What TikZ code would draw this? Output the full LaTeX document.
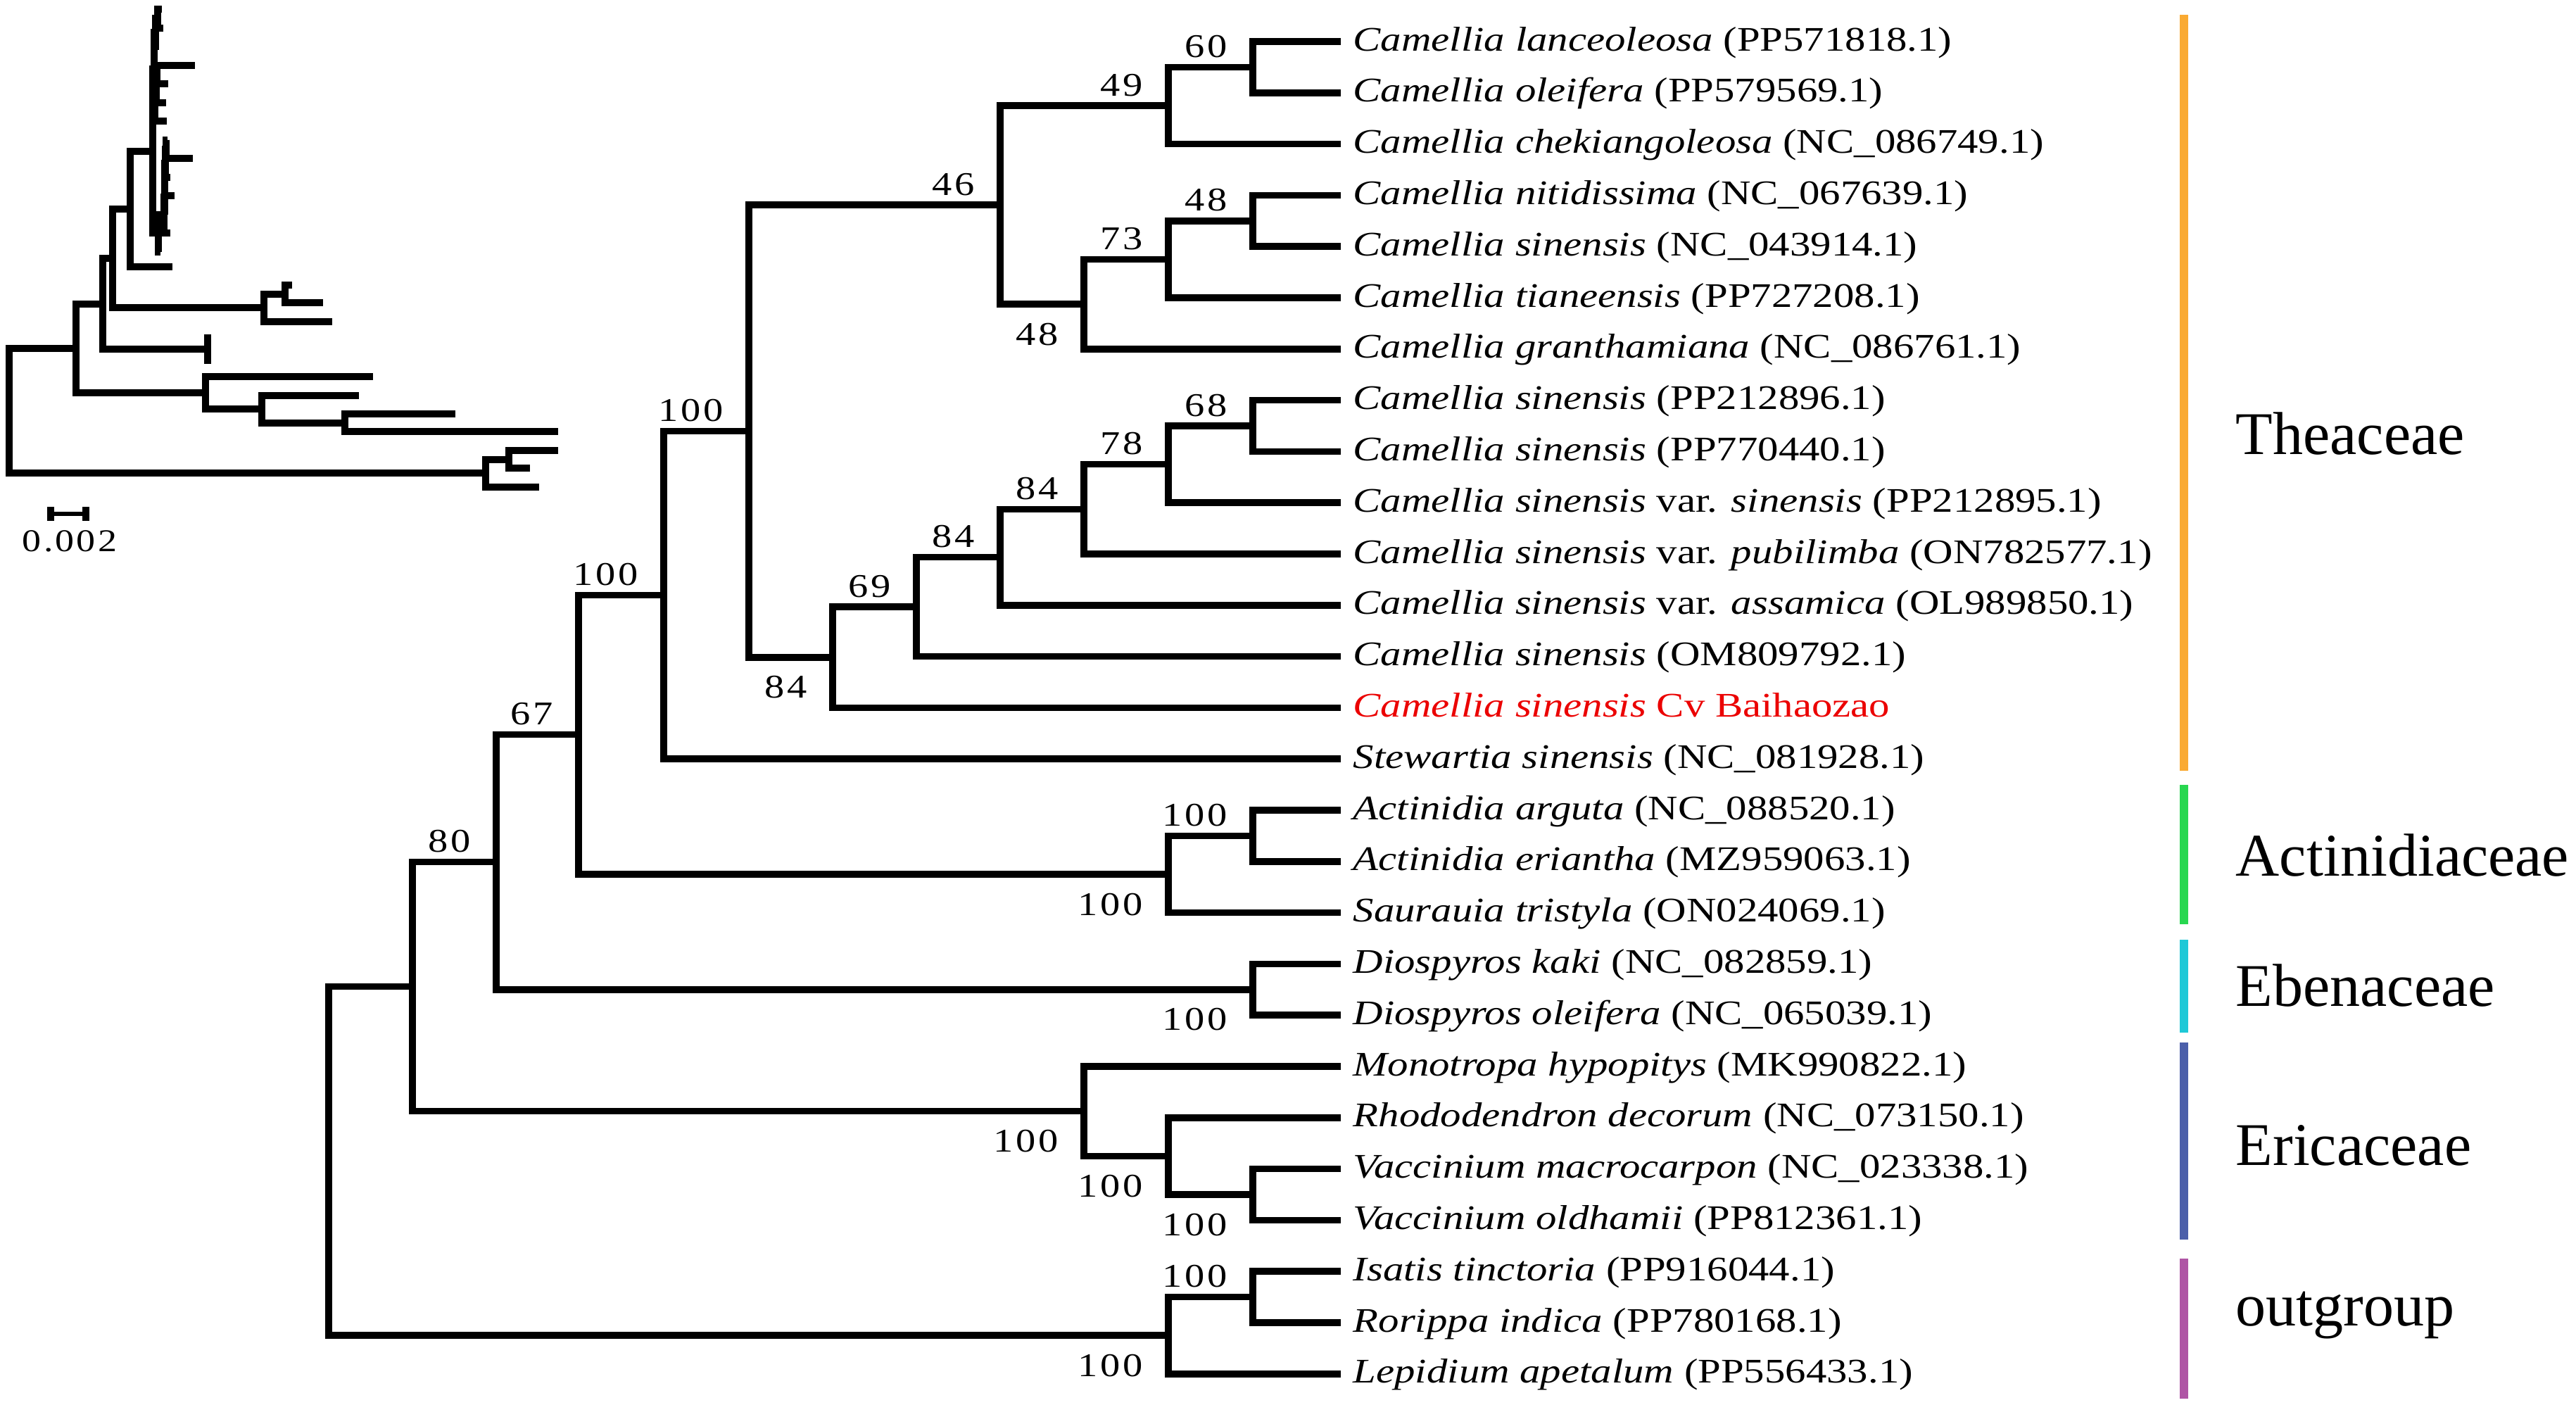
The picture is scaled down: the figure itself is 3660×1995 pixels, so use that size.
\documentclass[tikz,border=0pt]{standalone}
\usepackage{fontspec}
\newfontfamily\leaffont[FakeStretch=1.2]{Liberation Serif}
\newfontfamily\numfont[FakeStretch=1.2,LetterSpace=7]{Liberation Serif}
\newfontfamily\famfont{Liberation Serif}
\definecolor{cThea}{RGB}{250,170,50}
\definecolor{cActi}{RGB}{40,215,80}
\definecolor{cEben}{RGB}{30,200,215}
\definecolor{cEric}{RGB}{75,95,170}
\definecolor{cOut}{RGB}{175,85,165}
\definecolor{cRed}{RGB}{235,0,0}
\tikzset{
  branch/.style={line width=0.95mm, line join=miter},
  ibranch/.style={line width=1mm, line join=miter},
  leaflab/.style={anchor=base west, inner sep=0pt, font=\leaffont\fontsize{13.94}{16}\selectfont},
  bsup/.style={anchor=base east, inner sep=0pt, font=\numfont\fontsize{13.4}{15}\selectfont, xshift=-3.6mm, yshift=1.4mm},
  bsdown/.style={anchor=base east, inner sep=0pt, font=\numfont\fontsize{13.4}{15}\selectfont, xshift=-3.6mm, yshift=-5.8mm},
  famlab/.style={anchor=base west, inner sep=0pt, font=\famfont\fontsize{24.5}{28}\selectfont},
  fambar/.style={line width=1.2mm},
}
\begin{document}
\begin{tikzpicture}[x=0.1mm, y=-0.1mm]
\useasboundingbox (0,0) rectangle (3660,1995);
% ---------------- leaves
\coordinate (l1) at (1905,59);
\coordinate (l2) at (1905,131.8);
\coordinate (l3) at (1905,204.6);
\coordinate (l4) at (1905,277.4);
\coordinate (l5) at (1905,350.2);
\coordinate (l6) at (1905,423);
\coordinate (l7) at (1905,495.8);
\coordinate (l8) at (1905,568.6);
\coordinate (l9) at (1905,641.4);
\coordinate (l10) at (1905,714.2);
\coordinate (l11) at (1905,787);
\coordinate (l12) at (1905,859.8);
\coordinate (l13) at (1905,932.6);
\coordinate (l14) at (1905,1005.4);
\coordinate (l15) at (1905,1078.2);
\coordinate (l16) at (1905,1151);
\coordinate (l17) at (1905,1223.8);
\coordinate (l18) at (1905,1296.6);
\coordinate (l19) at (1905,1369.4);
\coordinate (l20) at (1905,1442.2);
\coordinate (l21) at (1905,1515);
\coordinate (l22) at (1905,1587.8);
\coordinate (l23) at (1905,1660.6);
\coordinate (l24) at (1905,1733.4);
\coordinate (l25) at (1905,1806.2);
\coordinate (l26) at (1905,1879);
\coordinate (l27) at (1905,1951.8);
% ---------------- internal nodes
\coordinate (n60) at (1780,95.4);
\coordinate (n49) at (1660,150);
\coordinate (n48a) at (1780,313.8);
\coordinate (n73) at (1660,368.4);
\coordinate (n48b) at (1540,432.1);
\coordinate (n46) at (1421,291.05);
\coordinate (n68) at (1780,605);
\coordinate (n78) at (1660,659.6);
\coordinate (n84a) at (1540,723.3);
\coordinate (n84b) at (1421,791.55);
\coordinate (n69) at (1302,862.1);
\coordinate (n84c) at (1183,933.75);
\coordinate (nF) at (1064,612.4);
\coordinate (nE) at (943,845.3);
\coordinate (nActi) at (1780,1187.4);
\coordinate (nAct) at (1660,1242);
\coordinate (nD) at (822,1043.65);
\coordinate (nEb) at (1780,1405.8);
\coordinate (nC) at (705,1224.7);
\coordinate (nV) at (1780,1697);
\coordinate (nR) at (1660,1642.4);
\coordinate (nEr) at (1540,1578.7);
\coordinate (nB) at (586,1401.7);
\coordinate (nOi) at (1780,1842.6);
\coordinate (nO) at (1660,1897.2);
\coordinate (nRoot) at (467,1649.45);
% ---------------- branches
\draw[branch] (l1) -| (n60) |- (l2);
\draw[branch] (n60) -| (n49) |- (l3);
\draw[branch] (l4) -| (n48a) |- (l5);
\draw[branch] (n48a) -| (n73) |- (l6);
\draw[branch] (n73) -| (n48b) |- (l7);
\draw[branch] (n49) -| (n46) |- (n48b);
\draw[branch] (l8) -| (n68) |- (l9);
\draw[branch] (n68) -| (n78) |- (l10);
\draw[branch] (n78) -| (n84a) |- (l11);
\draw[branch] (n84a) -| (n84b) |- (l12);
\draw[branch] (n84b) -| (n69) |- (l13);
\draw[branch] (n69) -| (n84c) |- (l14);
\draw[branch] (n46) -| (nF) |- (n84c);
\draw[branch] (nF) -| (nE) |- (l15);
\draw[branch] (l16) -| (nActi) |- (l17);
\draw[branch] (nActi) -| (nAct) |- (l18);
\draw[branch] (nE) -| (nD) |- (nAct);
\draw[branch] (l19) -| (nEb) |- (l20);
\draw[branch] (nD) -| (nC) |- (nEb);
\draw[branch] (l23) -| (nV) |- (l24);
\draw[branch] (l22) -| (nR) |- (nV);
\draw[branch] (l21) -| (nEr) |- (nR);
\draw[branch] (nC) -| (nB) |- (nEr);
\draw[branch] (l25) -| (nOi) |- (l26);
\draw[branch] (nOi) -| (nO) |- (l27);
\draw[branch] (nB) -| (nRoot) |- (nO);
% ---------------- bootstrap values
\node[bsup] (b60) at (n60) {60};
\node[bsup] (b49) at (n49) {49};
\node[bsup] (b46) at (n46) {46};
\node[bsup] (b48a) at (n48a) {48};
\node[bsup] (b73) at (n73) {73};
\node[bsdown] (b48b) at (n48b) {48};
\node[bsup] (b68) at (n68) {68};
\node[bsup] (b78) at (n78) {78};
\node[bsup] (b84a) at (n84a) {84};
\node[bsup] (b84b) at (n84b) {84};
\node[bsup] (b69) at (n69) {69};
\node[bsdown] (b84c) at (n84c) {84};
\node[bsup] (bF) at (nF) {100};
\node[bsup] (bE) at (nE) {100};
\node[bsup] (bD) at (nD) {67};
\node[bsup] (bC) at (nC) {80};
\node[bsup] (bActi) at (nActi) {100};
\node[bsdown] (bAct) at (nAct) {100};
\node[bsdown] (bEb) at (nEb) {100};
\node[bsdown] (bEr) at (nEr) {100};
\node[bsdown] (bR) at (nR) {100};
\node[bsdown] (bV) at (nV) {100};
\node[bsup] (bOi) at (nOi) {100};
\node[bsdown] (bO) at (nO) {100};
% ---------------- leaf labels
\begin{scope}[every node/.style={leaflab, xshift=1.7mm, yshift=-1.3mm}]
\node (t1) at (l1) {\textit{Camellia lanceoleosa} (PP571818.1)};
\node (t2) at (l2) {\textit{Camellia oleifera} (PP579569.1)};
\node (t3) at (l3) {\textit{Camellia chekiangoleosa} (NC\_086749.1)};
\node (t4) at (l4) {\textit{Camellia nitidissima} (NC\_067639.1)};
\node (t5) at (l5) {\textit{Camellia sinensis} (NC\_043914.1)};
\node (t6) at (l6) {\textit{Camellia tianeensis} (PP727208.1)};
\node (t7) at (l7) {\textit{Camellia granthamiana} (NC\_086761.1)};
\node (t8) at (l8) {\textit{Camellia sinensis} (PP212896.1)};
\node (t9) at (l9) {\textit{Camellia sinensis} (PP770440.1)};
\node (t10) at (l10) {\textit{Camellia sinensis} var. \textit{sinensis} (PP212895.1)};
\node (t11) at (l11) {\textit{Camellia sinensis} var. \textit{pubilimba} (ON782577.1)};
\node (t12) at (l12) {\textit{Camellia sinensis} var. \textit{assamica} (OL989850.1)};
\node (t13) at (l13) {\textit{Camellia sinensis} (OM809792.1)};
\node[text=cRed] (t14) at (l14) {\textit{Camellia sinensis} Cv Baihaozao};
\node (t15) at (l15) {\textit{Stewartia sinensis} (NC\_081928.1)};
\node (t16) at (l16) {\textit{Actinidia arguta} (NC\_088520.1)};
\node (t17) at (l17) {\textit{Actinidia eriantha} (MZ959063.1)};
\node (t18) at (l18) {\textit{Saurauia tristyla} (ON024069.1)};
\node (t19) at (l19) {\textit{Diospyros kaki} (NC\_082859.1)};
\node (t20) at (l20) {\textit{Diospyros oleifera} (NC\_065039.1)};
\node (t21) at (l21) {\textit{Monotropa hypopitys} (MK990822.1)};
\node (t22) at (l22) {\textit{Rhododendron decorum} (NC\_073150.1)};
\node (t23) at (l23) {\textit{Vaccinium macrocarpon} (NC\_023338.1)};
\node (t24) at (l24) {\textit{Vaccinium oldhamii} (PP812361.1)};
\node (t25) at (l25) {\textit{Isatis tinctoria} (PP916044.1)};
\node (t26) at (l26) {\textit{Rorippa indica} (PP780168.1)};
\node (t27) at (l27) {\textit{Lepidium apetalum} (PP556433.1)};
\end{scope}
% ---------------- family bars and labels
\coordinate (fa1) at (3103,21);   \coordinate (fa2) at (3103,1095);
\coordinate (fb1) at (3103,1115); \coordinate (fb2) at (3103,1313);
\coordinate (fc1) at (3103,1335); \coordinate (fc2) at (3103,1467);
\coordinate (fd1) at (3103,1481); \coordinate (fd2) at (3103,1761);
\coordinate (fe1) at (3103,1788); \coordinate (fe2) at (3103,1987);
\draw[fambar, cThea] (fa1) -- (fa2);
\draw[fambar, cActi] (fb1) -- (fb2);
\draw[fambar, cEben] (fc1) -- (fc2);
\draw[fambar, cEric] (fd1) -- (fd2);
\draw[fambar, cOut] (fe1) -- (fe2);
\node[famlab] (gThea) at (3176,645) {Theaceae};
\node[famlab] (gActi) at (3176,1244) {Actinidiaceae};
\node[famlab] (gEben) at (3176,1429) {Ebenaceae};
\node[famlab] (gEric) at (3176,1655) {Ericaceae};
\node[famlab] (gOut) at (3176,1883) {outgroup};
% ---------------- inset tree (branch lengths)
\coordinate (i1) at (230,13);
\coordinate (i2) at (232,39.5);
\coordinate (i3) at (226,66);
\coordinate (i4) at (277,92.5);
\coordinate (i5) at (239,119);
\coordinate (i6) at (236,145.5);
\coordinate (i7) at (237,172);
\coordinate (i8) at (238,198.5);
\coordinate (i9) at (274,225);
\coordinate (i10) at (242,251.5);
\coordinate (i11) at (248,278);
\coordinate (i12) at (238,304.5);
\coordinate (i13) at (242,331);
\coordinate (i14) at (228,357.5);
\coordinate (i15) at (245,379);
\coordinate (i16) at (415,405);
\coordinate (i17) at (459,430);
\coordinate (i18) at (472,457);
\coordinate (i19) at (300,480);
\coordinate (i20) at (300,512);
\coordinate (i21) at (530,535);
\coordinate (i22) at (510,562);
\coordinate (i23) at (647,588);
\coordinate (i24) at (793,613);
\coordinate (i25) at (793,640);
\coordinate (i26) at (753,665);
\coordinate (i27) at (766,692);
\coordinate (j60) at (224,26.25);
\coordinate (j49) at (221,46.1);
\coordinate (j48a) at (223,105.75);
\coordinate (j73) at (222,125.6);
\coordinate (j48b) at (220,148.8);
\coordinate (j46) at (219,97.5);
\coordinate (j68) at (236,211.75);
\coordinate (j78) at (235,231.6);
\coordinate (j84a) at (234,254.8);
\coordinate (j84b) at (234,279.7);
\coordinate (j69) at (233,305.3);
\coordinate (j84c) at (225,331.4);
\coordinate (jF) at (217,214.5);
\coordinate (jE) at (185,296.7);
\coordinate (jActi) at (405,417.5);
\coordinate (jAct) at (375,437.2);
\coordinate (jD) at (160,367);
\coordinate (jEb) at (295,496);
\coordinate (jC) at (146,431.5);
\coordinate (jV) at (490,600.5);
\coordinate (jR) at (372,581.3);
\coordinate (jEr) at (292,558.1);
\coordinate (jB) at (108,494.8);
\coordinate (jOi) at (723,652.5);
\coordinate (jO) at (690,672.3);
\coordinate (jRoot) at (13,583.5);
\draw[ibranch] (i1) -| (j60) |- (i2);
\draw[ibranch] (j60) -| (j49) |- (i3);
\draw[ibranch] (i4) -| (j48a) |- (i5);
\draw[ibranch] (j48a) -| (j73) |- (i6);
\draw[ibranch] (j73) -| (j48b) |- (i7);
\draw[ibranch] (j49) -| (j46) |- (j48b);
\draw[ibranch] (i8) -| (j68) |- (i9);
\draw[ibranch] (j68) -| (j78) |- (i10);
\draw[ibranch] (j78) -| (j84a) |- (i11);
\draw[ibranch] (j84a) -| (j84b) |- (i12);
\draw[ibranch] (j84b) -| (j69) |- (i13);
\draw[ibranch] (j69) -| (j84c) |- (i14);
\draw[ibranch] (j46) -| (jF) |- (j84c);
\draw[ibranch] (jF) -| (jE) |- (i15);
\draw[ibranch] (i16) -| (jActi) |- (i17);
\draw[ibranch] (jActi) -| (jAct) |- (i18);
\draw[ibranch] (jE) -| (jD) |- (jAct);
\draw[ibranch] (i19) -| (jEb) |- (i20);
\draw[ibranch] (jD) -| (jC) |- (jEb);
\draw[ibranch] (i23) -| (jV) |- (i24);
\draw[ibranch] (i22) -| (jR) |- (jV);
\draw[ibranch] (i21) -| (jEr) |- (jR);
\draw[ibranch] (jC) -| (jB) |- (jEr);
\draw[ibranch] (i25) -| (jOi) |- (i26);
\draw[ibranch] (jOi) -| (jO) |- (i27);
\draw[ibranch] (jB) -| (jRoot) |- (jO);
% ---------------- scale bar
\coordinate (sL) at (72,730);
\coordinate (sR) at (122,730);
\draw[line width=0.6mm] (sL) -- (sR);
\draw[line width=1mm] ([yshift=1mm]sL) -- ([yshift=-1mm]sL);
\draw[line width=1mm] ([yshift=1mm]sR) -- ([yshift=-1mm]sR);
\node[anchor=base, inner sep=0pt, font=\numfont\fontsize{12.8}{14}\selectfont] (sT) at (99,783) {0.002};
\end{tikzpicture}
\end{document}
